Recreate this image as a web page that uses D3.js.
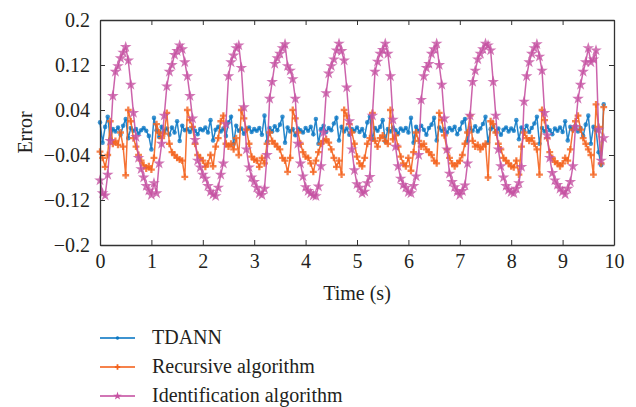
<!DOCTYPE html>
<html>
<head>
<meta charset="utf-8">
<script src="https://cdn.jsdelivr.net/npm/d3@7"></script>
<style>
  body { margin: 0; background: #fff; }
  text { font-family: "Liberation Serif", "Times New Roman", serif; fill: #231f20; }
</style>
</head>
<body>
<div id="chart-area"></div>
<script>
// sampled every 0.05 s, 0 .. 9.8 s
const step = 0.05

const tdann = [
  0.018, -0.018, 0.01, 0.028, -0.012, 0.006, 0.002, 0.009, -0.004, 0.012,
  0.024, -0.01, 0.008, 0.003, 0.006, -0.002, 0.004, 0.008, 0.003, -0.006,
  -0.03, 0.026, 0.004, -0.008, 0.01, 0.002, 0.007, -0.004, 0.009, 0.0,
  0.02, -0.015, 0.012, 0.004, 0.006, 0.001, 0.008, 0.003, -0.003, 0.006,
  0.004, 0.009, 0.0, 0.022, -0.014, 0.005, 0.01, 0.002, 0.007, -0.006,
  0.018, 0.028, -0.02, 0.012, 0.003, 0.007, -0.002, 0.005, 0.009, 0.001,
  0.006, 0.003, 0.008, -0.004, 0.03, -0.016, 0.008, 0.002, 0.011, 0.004,
  0.014, 0.028, -0.018, 0.009, 0.002, 0.006, -0.005, 0.007, 0.004, 0.0,
  0.008, 0.003, 0.01, -0.003, 0.024, -0.02, 0.006, 0.012, 0.001, 0.008,
  0.004, 0.016, 0.026, -0.014, 0.01, 0.002, 0.007, -0.004, 0.006, 0.003,
  0.009, 0.001, 0.006, -0.006, 0.018, 0.028, -0.012, 0.008, 0.003, 0.01,
  0.022, -0.016, 0.006, 0.002, 0.009, 0.004, -0.002, 0.007, 0.003, 0.008,
  0.0, 0.026, -0.018, 0.01, 0.003, 0.012, 0.005, -0.004, 0.008, 0.014,
  0.026, -0.014, 0.009, 0.003, 0.006, 0.0, 0.008, 0.004, 0.01, -0.003,
  0.006, 0.018, 0.024, -0.016, 0.008, 0.003, 0.011, 0.002, 0.007, 0.015,
  0.028, -0.018, 0.006, 0.01, 0.002, 0.007, -0.004, 0.005, 0.009, 0.002,
  0.007, 0.003, 0.022, -0.012, 0.009, 0.004, 0.012, 0.001, 0.008, 0.016,
  0.028, -0.02, 0.008, 0.002, 0.01, 0.004, -0.003, 0.007, 0.003, 0.009,
  0.001, 0.02, -0.014, 0.01, 0.005, 0.012, 0.002, 0.008, -0.006, 0.014,
  0.03, -0.02, 0.01, 0.004, -0.035, -0.058, 0.05
]

const recursive = [
  -0.034, -0.045, -0.061, -0.04, 0.02, -0.02, -0.015, -0.022, 0.0, -0.025,
  -0.076, 0.04, 0.02, -0.01, -0.025, -0.04, -0.05, -0.058, -0.064, -0.06,
  -0.066, -0.045, 0.015, 0.0, -0.01, -0.002, 0.035, -0.02, -0.035, -0.04,
  -0.045, -0.048, -0.05, -0.079, 0.04, 0.022, 0.01, -0.02, -0.04, -0.045,
  -0.05, -0.061, -0.055, -0.04, -0.06, -0.025, -0.01, 0.02, 0.03, -0.02,
  -0.025, -0.02, -0.03, -0.01, -0.04, 0.04, 0.025, 0.005, -0.02, -0.043,
  -0.048, -0.05, -0.061, -0.045, -0.055, -0.02, 0.0, -0.015, -0.02, -0.025,
  -0.03, -0.045, -0.05, -0.07, -0.045, 0.04, 0.025, 0.0, -0.02, -0.035,
  -0.043, -0.045, -0.055, -0.07, -0.05, -0.035, -0.02, -0.015, -0.012, -0.018,
  -0.03, -0.045, -0.061, -0.05, -0.075, 0.04, 0.03, 0.015, 0.0, -0.02,
  -0.043, -0.055, -0.06, -0.045, -0.02, -0.01, 0.035, -0.015, -0.025, -0.01,
  -0.005, -0.015, -0.02, 0.04, -0.012, -0.005, -0.025, -0.043, -0.055, -0.06,
  -0.045, -0.068, -0.035, 0.0, -0.015, -0.025, -0.02, -0.03, -0.035, -0.04,
  -0.05, -0.055, 0.035, 0.022, -0.005, -0.03, -0.045, -0.055, -0.06, -0.055,
  -0.05, -0.04, -0.02, 0.0, 0.03, -0.015, -0.025, -0.022, -0.03, -0.025,
  -0.02, -0.08, 0.02, 0.015, 0.0, -0.02, -0.03, -0.045, -0.05, -0.055,
  -0.06, -0.062, -0.05, -0.075, -0.025, 0.0, -0.01, -0.015, -0.01, -0.02,
  -0.03, -0.075, 0.04, 0.022, -0.01, -0.035, -0.045, -0.052, -0.055, -0.06,
  -0.055, -0.045, -0.05, -0.03, 0.005, 0.02, 0.03, 0.005, -0.01, -0.02,
  -0.03, -0.04, -0.075, 0.05, 0.01, -0.055, 0.045
]

const identification = [
  -0.085, -0.108, -0.112, -0.075, -0.015, 0.065, 0.108, 0.118, 0.132, 0.142,
  0.152, 0.128, 0.085, 0.035, -0.008, -0.045, -0.065, -0.08, -0.095, -0.103,
  -0.111, -0.09, -0.108, -0.055, -0.02, 0.03, 0.082, 0.108, 0.12, 0.138,
  0.145, 0.155, 0.148, 0.125, 0.1, 0.065, 0.025, -0.013, -0.05, -0.062,
  -0.075, -0.082, -0.095, -0.105, -0.11, -0.113, -0.098, -0.075, -0.055, 0.015,
  0.1, 0.125, 0.137, 0.15, 0.155, 0.115, 0.045, -0.03, -0.062, -0.08,
  -0.088, -0.098, -0.108, -0.111, -0.1, -0.04, 0.06, 0.09, 0.122, 0.132,
  0.14, 0.15, 0.157, 0.118, 0.11, 0.095, 0.06, -0.02, -0.055, -0.078,
  -0.097, -0.104, -0.108, -0.112, -0.113, -0.096, -0.06, 0.0, 0.07, 0.105,
  0.118, 0.13, 0.146, 0.158, 0.145, 0.128, 0.08, 0.02, -0.03, -0.067,
  -0.092, -0.098, -0.108, -0.105, -0.09, -0.079, 0.03, 0.108, 0.126, 0.14,
  0.147, 0.158, 0.14, 0.1, 0.023, -0.025, -0.06, -0.082, -0.093, -0.098,
  -0.106, -0.108, -0.095, -0.078, -0.04, 0.058, 0.1, 0.115, 0.122, 0.14,
  0.148, 0.158, 0.12, 0.085, 0.025, -0.03, -0.073, -0.088, -0.097, -0.105,
  -0.111, -0.104, -0.094, -0.055, 0.03, 0.09, 0.11, 0.13, 0.14, 0.148,
  0.158, 0.155, 0.146, 0.09, 0.03, -0.03, -0.06, -0.08, -0.095, -0.102,
  -0.106, -0.108, -0.1, -0.09, -0.061, 0.055, 0.1, 0.125, 0.14, 0.15,
  0.157, 0.135, 0.11, 0.035, -0.005, -0.045, -0.072, -0.085, -0.093, -0.1,
  -0.105, -0.11, -0.1, -0.088, -0.06, 0.01, 0.06, 0.085, 0.108, 0.125,
  0.15, 0.125, 0.13, 0.146, 0.005, -0.05, -0.01
]

const seriesNames = ["TDANN", "Recursive algorithm", "Identification algorithm"]
const xTicks = [0, 1, 2, 3, 4, 5, 6, 7, 8, 9, 10]
const yTicks = [-0.2, -0.12, -0.04, 0.04, 0.12, 0.2]
const yTickLabels = ["\u22120.2", "\u22120.12", "\u22120.04", "0.04", "0.12", "0.2"]

const MARGIN = { LEFT: 100, RIGHT: 22, TOP: 20, BOTTOM: 162 }
const WIDTH = 636 - MARGIN.LEFT - MARGIN.RIGHT
const HEIGHT = 407 - MARGIN.TOP - MARGIN.BOTTOM

const svg = d3.select("#chart-area").append("svg")
  .attr("width", 636)
  .attr("height", 407)

const g = svg.append("g")
  .attr("transform", `translate(${MARGIN.LEFT}, ${MARGIN.TOP})`)

const xScale = d3.scaleLinear().domain([0, 10]).range([0, WIDTH])
const yScale = d3.scaleLinear().domain([-0.2, 0.2]).range([HEIGHT, 0])

const series = [
  { name: seriesNames[0], values: tdann, color: "#0C78C4", symbol: d3.symbolCircle, size: 16, legendSize: 9 },
  { name: seriesNames[1], values: recursive, color: "#F4631E", symbol: d3.symbolCross, size: 26, legendSize: 16 },
  { name: seriesNames[2], values: identification, color: "#C652A2", symbol: d3.symbolStar, size: 42, legendSize: 22 }
]

const line = d3.line()
  .x((d, i) => xScale(i * step))
  .y(d => yScale(d))

series.forEach(s => {
  const sg = g.append("g")
  sg.append("path")
    .attr("fill", "none")
    .attr("stroke", s.color)
    .attr("stroke-width", 1.5)
    .attr("stroke-opacity", 0.9)
    .attr("d", line(s.values))
  const sym = d3.symbol().type(s.symbol).size(s.size)
  sg.selectAll("path.m")
    .data(s.values)
    .join("path")
    .attr("class", "m")
    .attr("transform", (d, i) => `translate(${xScale(i * step)},${yScale(d)})`)
    .attr("d", sym)
    .attr("fill", s.color)
    .attr("fill-opacity", 0.8)
})

// axes box with inward ticks
const axisColor = "#333"
const xAxis = g.append("g")
  .attr("transform", `translate(0,${HEIGHT})`)
  .call(d3.axisBottom(xScale).tickValues(xTicks).tickSizeInner(-5).tickSizeOuter(0).tickPadding(9))
const yAxis = g.append("g")
  .call(d3.axisLeft(yScale).tickValues(yTicks).tickFormat((d, i) => yTickLabels[i])
    .tickSizeInner(-5).tickSizeOuter(0).tickPadding(10))
const xTop = g.append("g")
  .call(d3.axisTop(xScale).tickValues(xTicks).tickSizeInner(-5).tickSizeOuter(0).tickFormat(""))
const yRight = g.append("g")
  .attr("transform", `translate(${WIDTH},0)`)
  .call(d3.axisRight(yScale).tickValues(yTicks).tickSizeInner(-5).tickSizeOuter(0).tickFormat(""))

;[xAxis, yAxis, xTop, yRight].forEach(a => {
  a.selectAll("path.domain").attr("stroke", axisColor).attr("stroke-width", 1.3)
  a.selectAll(".tick line").attr("stroke", axisColor).attr("stroke-width", 1)
})
xAxis.selectAll("text").attr("font-size", 20).attr("font-family", "Liberation Serif").attr("fill", "#231f20")
yAxis.selectAll("text").attr("font-size", 20).attr("font-family", "Liberation Serif").attr("fill", "#231f20")

g.append("text")
  .attr("x", WIDTH / 2)
  .attr("y", HEIGHT + 55)
  .attr("text-anchor", "middle")
  .attr("font-size", 20)
  .text("Time (s)")

g.append("text")
  .attr("transform", `translate(${32 - MARGIN.LEFT},${HEIGHT / 2}) rotate(-90)`)
  .attr("text-anchor", "middle")
  .attr("font-size", 20)
  .text("Error")

// legend
const legend = svg.append("g").attr("transform", "translate(100,338)")
series.forEach((s, i) => {
  const row = legend.append("g").attr("transform", `translate(0,${i * 29})`)
  row.append("line")
    .attr("x1", 0).attr("x2", 35)
    .attr("stroke", s.color).attr("stroke-width", 2).attr("stroke-opacity", 0.8)
  row.append("path")
    .attr("transform", "translate(17.5,0)")
    .attr("d", d3.symbol().type(s.symbol).size(s.legendSize)())
    .attr("fill", s.color)
  row.append("text")
    .attr("x", 52).attr("y", 6)
    .attr("font-size", 20)
    .text(s.name)
})
</script>
</body>
</html>
